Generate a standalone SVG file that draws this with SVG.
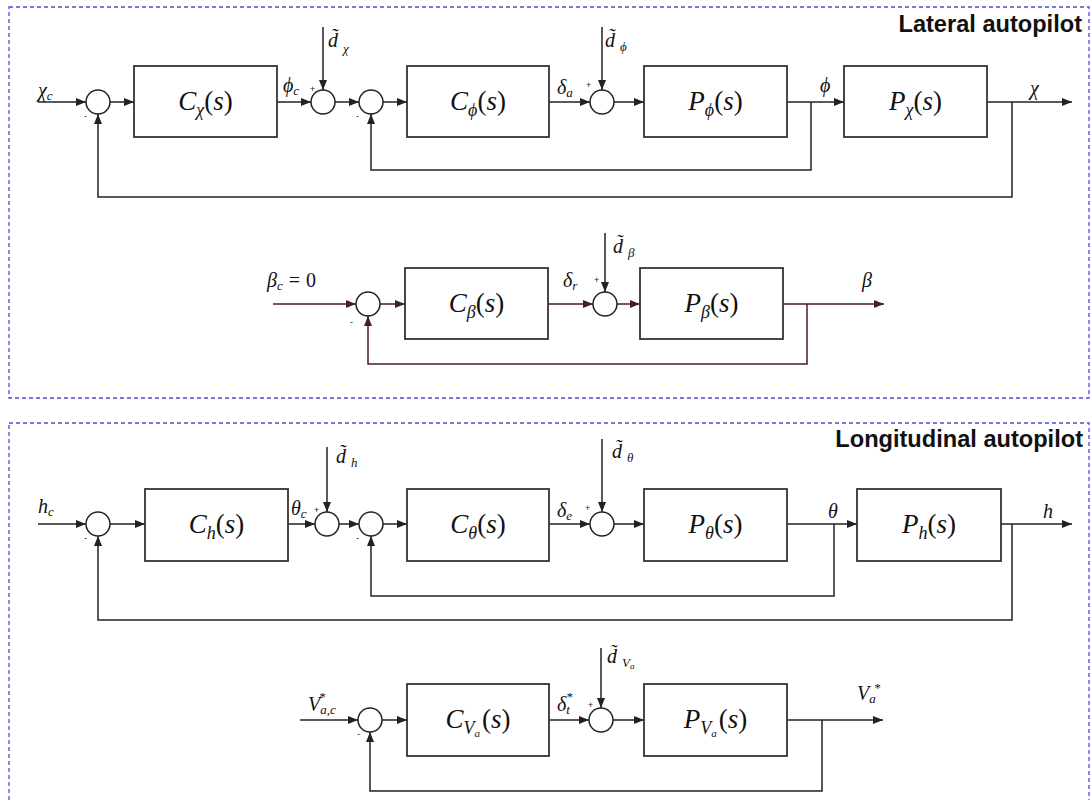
<svg xmlns="http://www.w3.org/2000/svg" width="1090" height="800" viewBox="0 0 1090 800">
<style>
.ln{stroke:#222;stroke-width:1.5;fill:none}
.lnb{stroke:#4a1a33;stroke-width:1.5;fill:none}
.box{fill:#fff;stroke:#333;stroke-width:1.8}
.sum{fill:#fff;stroke:#222;stroke-width:1.5}
.frame{fill:none;stroke:#4a4ad8;stroke-width:1.3;stroke-dasharray:4 3}
.m{font-family:"Liberation Serif",serif;font-style:italic;font-size:20px;fill:#111}
.s{font-size:13px}
.bl{font-family:"Liberation Serif",serif;font-style:italic;font-size:27px;fill:#111;text-anchor:middle}
.bs{font-size:18px}
.up{font-style:normal}
.pm{font-family:"Liberation Sans",sans-serif;font-size:9px;fill:#222}
.t{font-family:"Liberation Sans",sans-serif;font-weight:bold;font-size:23.6px;fill:#111;text-anchor:end}
</style>
<defs>
<marker id="ah" markerWidth="10" markerHeight="8" refX="10" refY="4" orient="auto" markerUnits="userSpaceOnUse"><path d="M0,0 L10,4 L0,8 z" fill="#222"/></marker>
<marker id="ahb" markerWidth="10" markerHeight="8" refX="10" refY="4" orient="auto" markerUnits="userSpaceOnUse"><path d="M0,0 L10,4 L0,8 z" fill="#4a1a33"/></marker>
</defs>
<rect width="1090" height="800" fill="#fff"/>
<g id="frames">
<rect class="frame" x="9" y="7" width="1080" height="391"/>
<rect class="frame" x="9" y="423" width="1080" height="400"/>
<text class="t" x="1082" y="32">Lateral autopilot</text>
<text class="t" x="1083" y="447">Longitudinal autopilot</text>
</g>
<g id="connectors">
<g marker-end="url(#ah)" class="ln">
<path d="M38,102 H86"/><path d="M110,102 H134"/><path d="M277,102 H311"/><path d="M323,27 V90"/>
<path d="M335,102 H359"/><path d="M383,102 H407"/><path d="M549,102 H590"/><path d="M602,27 V90"/>
<path d="M614,102 H644"/><path d="M787,102 H844"/><path d="M987,102 H1072"/>
<path d="M811,102 V170 H371 V114"/><path d="M1012,102 V197 H98 V114"/>
<path d="M605,233 V292"/>
<path d="M38,524 H86"/><path d="M110,524 H145"/><path d="M288,524 H315"/><path d="M327,447 V512"/>
<path d="M339,524 H359"/><path d="M383,524 H407"/><path d="M549,524 H590"/><path d="M602,439 V512"/>
<path d="M614,524 H644"/><path d="M787,524 H857"/><path d="M1001,524 H1072"/>
<path d="M834,524 V596 H371 V536"/><path d="M1012,524 V620 H98 V536"/>
<path d="M300,720 H358"/><path d="M382,720 H407"/><path d="M549,720 H589"/><path d="M601,648 V708"/>
<path d="M613,720 H644"/><path d="M787,720 H883"/><path d="M822,720 V791 H370 V732"/>
</g>
<g marker-end="url(#ahb)" class="lnb">
<path d="M273,304 H356"/><path d="M380,304 H405"/><path d="M548,304 H593"/><path d="M617,304 H640"/>
<path d="M783,304 H884"/><path d="M807,304 V364 H368 V316"/>
</g>
</g>
<g id="sum1"><circle class="sum" cx="98" cy="102" r="12"/><text class="pm" x="84" y="119">-</text></g>
<g id="sum2"><circle class="sum" cx="323" cy="102" r="12"/><text class="pm" x="310" y="92">+</text></g>
<g id="sum3"><circle class="sum" cx="371" cy="102" r="12"/><text class="pm" x="356" y="119">-</text></g>
<g id="sum4"><circle class="sum" cx="602" cy="102" r="12"/><text class="pm" x="586" y="88">+</text></g>
<g id="Cchi"><rect class="box" x="134" y="66" width="143" height="71"/><text class="bl" x="205.5" y="110">C<tspan class="bs" dy="6">χ</tspan><tspan class="up" dy="-6">(</tspan>s<tspan class="up">)</tspan></text></g>
<g id="Cphi"><rect class="box" x="407" y="66" width="142" height="71"/><text class="bl" x="478" y="110">C<tspan class="bs" dy="6">ϕ</tspan><tspan class="up" dy="-6">(</tspan>s<tspan class="up">)</tspan></text></g>
<g id="Pphi"><rect class="box" x="644" y="66" width="143" height="71"/><text class="bl" x="715.5" y="110">P<tspan class="bs" dy="6">ϕ</tspan><tspan class="up" dy="-6">(</tspan>s<tspan class="up">)</tspan></text></g>
<g id="Pchi"><rect class="box" x="844" y="66" width="143" height="71"/><text class="bl" x="915.5" y="110">P<tspan class="bs" dy="6">χ</tspan><tspan class="up" dy="-6">(</tspan>s<tspan class="up">)</tspan></text></g>
<g id="labels1">
<text class="m" x="38" y="97">χ<tspan class="s" dy="3">c</tspan></text>
<text class="m" x="283" y="92">ϕ<tspan class="s" dy="3">c</tspan></text>
<text class="m" x="328" y="47">d̃<tspan class="s" dx="5" dy="6">χ</tspan></text>
<text class="m" x="557" y="94">δ<tspan class="s" dy="3">a</tspan></text>
<text class="m" x="605" y="47">d̃<tspan class="s" dx="5" dy="4">ϕ</tspan></text>
<text class="m" x="820" y="92">ϕ</text>
<text class="m" x="1030" y="95">χ</text>
</g>
<g id="sum5"><circle class="sum" cx="368" cy="304" r="12"/><text class="pm" x="350" y="325">-</text></g>
<g id="sum6"><circle class="sum" cx="605" cy="304" r="12"/><text class="pm" x="594" y="283">+</text></g>
<g id="Cbeta"><rect class="box" x="405" y="268" width="143" height="71"/><text class="bl" x="476.5" y="312">C<tspan class="bs" dy="6">β</tspan><tspan class="up" dy="-6">(</tspan>s<tspan class="up">)</tspan></text></g>
<g id="Pbeta"><rect class="box" x="640" y="268" width="143" height="71"/><text class="bl" x="711.5" y="312">P<tspan class="bs" dy="6">β</tspan><tspan class="up" dy="-6">(</tspan>s<tspan class="up">)</tspan></text></g>
<g id="labels2">
<text class="m" x="267" y="287">β<tspan class="s" dy="3">c</tspan><tspan class="up" dx="6" dy="-3">=</tspan><tspan class="up" dx="6">0</tspan></text>
<text class="m" x="563" y="287">δ<tspan class="s" dy="3">r</tspan></text>
<text class="m" x="613" y="253">d̃<tspan class="s" dx="5" dy="4">β</tspan></text>
<text class="m" x="862" y="287">β</text>
</g>
<g id="sum7"><circle class="sum" cx="98" cy="524" r="12"/><text class="pm" x="84" y="541">-</text></g>
<g id="sum8"><circle class="sum" cx="327" cy="524" r="12"/><text class="pm" x="314" y="513">+</text></g>
<g id="sum9"><circle class="sum" cx="371" cy="524" r="12"/><text class="pm" x="356" y="541">-</text></g>
<g id="sum10"><circle class="sum" cx="602" cy="524" r="12"/><text class="pm" x="585" y="511">+</text></g>
<g id="Ch"><rect class="box" x="145" y="489" width="143" height="72"/><text class="bl" x="216.5" y="533">C<tspan class="bs" dy="6">h</tspan><tspan class="up" dy="-6">(</tspan>s<tspan class="up">)</tspan></text></g>
<g id="Ctheta"><rect class="box" x="407" y="489" width="142" height="72"/><text class="bl" x="478" y="533">C<tspan class="bs" dy="6">θ</tspan><tspan class="up" dy="-6">(</tspan>s<tspan class="up">)</tspan></text></g>
<g id="Ptheta"><rect class="box" x="644" y="489" width="143" height="72"/><text class="bl" x="715.5" y="533">P<tspan class="bs" dy="6">θ</tspan><tspan class="up" dy="-6">(</tspan>s<tspan class="up">)</tspan></text></g>
<g id="Ph"><rect class="box" x="857" y="489" width="144" height="72"/><text class="bl" x="929" y="533">P<tspan class="bs" dy="6">h</tspan><tspan class="up" dy="-6">(</tspan>s<tspan class="up">)</tspan></text></g>
<g id="labels3">
<text class="m" x="38" y="513">h<tspan class="s" dy="3">c</tspan></text>
<text class="m" x="291" y="515">θ<tspan class="s" dy="3">c</tspan></text>
<text class="m" x="336" y="463">d̃<tspan class="s" dx="5" dy="4">h</tspan></text>
<text class="m" x="557" y="517">δ<tspan class="s" dy="3">e</tspan></text>
<text class="m" x="612" y="458">d̃<tspan class="s" dx="5" dy="4">θ</tspan></text>
<text class="m" x="828" y="518">θ</text>
<text class="m" x="1043" y="518">h</text>
</g>
<g id="sum11"><circle class="sum" cx="370" cy="720" r="12"/><text class="pm" x="357" y="737">-</text></g>
<g id="sum12"><circle class="sum" cx="601" cy="720" r="12"/><text class="pm" x="588" y="708">+</text></g>
<g id="CVa"><rect class="box" x="407" y="684" width="142" height="72"/><text class="bl" x="478" y="728">C<tspan class="bs" dy="6">V<tspan font-size="11" dy="3">a</tspan></tspan><tspan class="up" dx="2" dy="-9">(</tspan>s<tspan class="up">)</tspan></text></g>
<g id="PVa"><rect class="box" x="644" y="684" width="143" height="72"/><text class="bl" x="715.5" y="728">P<tspan class="bs" dy="6">V<tspan font-size="11" dy="3">a</tspan></tspan><tspan class="up" dx="2" dy="-9">(</tspan>s<tspan class="up">)</tspan></text></g>
<g id="labels4">
<text class="m" x="308" y="711">V<tspan class="s" dy="3">a,c</tspan><tspan class="s" dx="-17" dy="-13">*</tspan></text>
<text class="m" x="557" y="711">δ<tspan class="s" dy="3">t</tspan><tspan class="s" dx="-4" dy="-13">*</tspan></text>
<text class="m" x="607" y="663">d̃<tspan class="s" dx="5" dy="4">V<tspan font-size="9" dy="2">a</tspan></tspan></text>
<text class="m" x="857" y="700">V<tspan class="s" dy="3">a</tspan><tspan class="s" dx="-2" dy="-11">*</tspan></text>
</g>
</svg>
